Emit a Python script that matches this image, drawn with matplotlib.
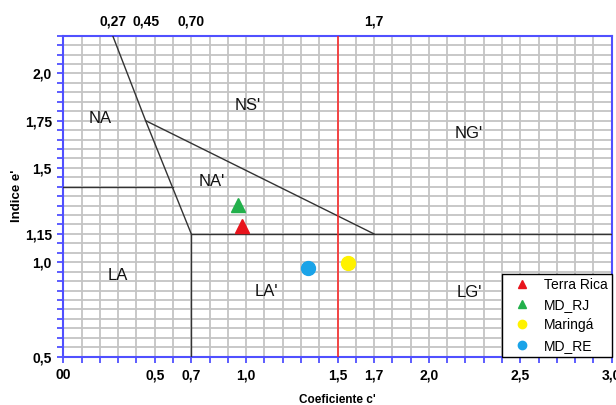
import matplotlib.pyplot as plt
from matplotlib.ticker import MultipleLocator, FixedLocator, FixedFormatter

plt.rcParams['font.family'] = ['Liberation Sans', 'DejaVu Sans']

# amostras (coeficiente c', indice e')
amostras = ['Terra Rica', 'MD_RJ', 'Maringá', 'MD_RE']
c_vals = [0.98, 0.955, 1.56, 1.34]
e_vals = [1.19, 1.305, 0.995, 0.967]

# limites da classificacao MCT
lim_diag_c = [0.27, 0.45, 0.70]
lim_diag_e = [2.2, 1.75, 1.15]
lim_ns_c = [0.45, 1.7]
lim_ns_e = [1.75, 1.15]
lim_na_c = [0.0, 0.60]
lim_na_e = [1.4, 1.4]
lim_lg_c = [0.70, 3.0]
lim_lg_e = [1.15, 1.15]
lim_la_c = [0.70, 0.70]
lim_la_e = [0.5, 1.15]
c_vermelho = 1.5

# rotulos das classes
classes = ['NA', "NS'", "NA'", "NG'", 'LA', "LA'", "LG'"]
classes_c = [0.20, 1.01, 0.81, 2.22, 0.30, 1.11, 2.22]
classes_e = [1.76, 1.83, 1.43, 1.68, 0.93, 0.845, 0.84]

x_ticks = [0, 0.5, 0.7, 1.0, 1.5, 1.7, 2.0, 2.5, 3.0]
x_labels = ['00', '0,5', '0,7', '1,0', '1,5', '1,7', '2,0', '2,5', '3,0']
y_ticks = [0.5, 1.0, 1.15, 1.5, 1.75, 2.0]
y_labels = ['0,5', '1,0', '1,15', '1,5', '1,75', '2,0']
top_ticks = [0.27, 0.45, 0.70, 1.7]
top_labels = ['0,27', '0,45', '0,70', '1,7']

cores = ['#e8141c', '#22b04b', '#fff200', '#1aa3e8']
marcadores = ['^', '^', 'o', 'o']

azul = '#5050ff'
fs_tick = 10

fig = plt.figure(figsize=(6.16, 4.05), dpi=100)
ax = fig.add_axes([0.1028, 0.1193, 0.8902, 0.7927])

ax.set_xlim(0, 3.0)
ax.set_ylim(0.5, 2.2)

ax.xaxis.set_major_locator(FixedLocator(x_ticks))
ax.xaxis.set_major_formatter(FixedFormatter(x_labels))
ax.xaxis.set_minor_locator(MultipleLocator(0.1))
ax.yaxis.set_major_locator(FixedLocator(y_ticks))
ax.yaxis.set_major_formatter(FixedFormatter(y_labels))
ax.yaxis.set_minor_locator(MultipleLocator(0.05))

ax.grid(which='both', color='#c4c4c4', lw=1.3, zorder=0)
ax.set_axisbelow(True)

for s in ax.spines.values():
    s.set_color(azul)
    s.set_linewidth(1.5)

ax.tick_params(which='both', colors=azul, labelcolor='black', length=4.3, width=1.3)
for lab in ax.get_xticklabels() + ax.get_yticklabels():
    lab.set_fontweight('bold')
    lab.set_fontsize(fs_tick)
ax.tick_params(axis='x', pad=4)
ax.tick_params(axis='y', pad=4)

# eixo superior
top = ax.twiny()
top.set_xlim(ax.get_xlim())
top.xaxis.set_major_locator(FixedLocator(top_ticks))
top.xaxis.set_major_formatter(FixedFormatter(top_labels))
top.tick_params(length=0, pad=5)
for lab in top.get_xticklabels():
    lab.set_fontweight('bold')
    lab.set_fontsize(fs_tick)
for s in top.spines.values():
    s.set_visible(False)

# linhas de limite
kw = dict(color='#333333', lw=1.0, zorder=3)
ax.plot(lim_diag_c, lim_diag_e, **kw)
ax.plot(lim_ns_c, lim_ns_e, **kw)
ax.plot(lim_na_c, lim_na_e, **kw)
ax.plot(lim_lg_c, lim_lg_e, **kw)
ax.plot(lim_la_c, lim_la_e, **kw)
ax.axvline(c_vermelho, color='#ff2020', lw=1.1, zorder=3)

for nome, cx, ex in zip(classes, classes_c, classes_e):
    ax.text(cx, ex, nome, fontsize=12, ha='center', va='center', color='#111111', zorder=4)

for nome, cx, ex, cor, m in zip(amostras, c_vals, e_vals, cores, marcadores):
    ax.plot(cx, ex, linestyle='none', marker=m, color=cor, ms=10,
            markeredgecolor=cor, label=nome, zorder=5)

leg = ax.legend(loc='lower right', bbox_to_anchor=(1.0, 0.0), markerscale=0.6,
                fontsize=10, frameon=True, fancybox=False, framealpha=1,
                edgecolor='black', borderpad=0.3, labelspacing=0.45,
                handletextpad=0.5, handlelength=2.2, borderaxespad=0)
leg.get_frame().set_linewidth(1.0)
leg.set_zorder(6)

ax.set_xlabel("Coeficiente c'", fontsize=8.5, fontweight='bold')
ax.xaxis.set_label_coords(0.5, -0.115)
ax.set_ylabel("Indice e'", fontsize=9.5, fontweight='bold')
ax.yaxis.set_label_coords(-0.074, 0.5)

fig.savefig('out.png', dpi=100)
